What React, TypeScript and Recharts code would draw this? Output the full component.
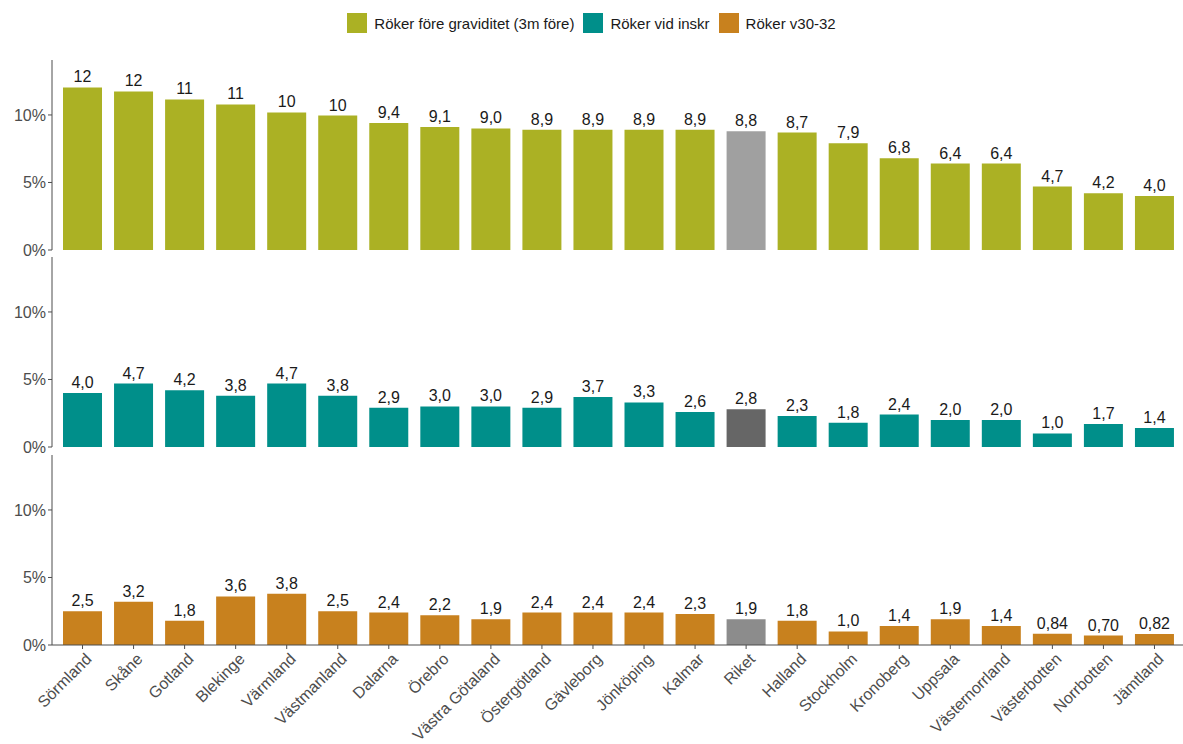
import { BarChart, Bar, XAxis, YAxis, Cell, LabelList } from "recharts";

const counties = [
  "Sörmland", "Skåne", "Gotland", "Blekinge", "Värmland", "Västmanland", "Dalarna", "Örebro",
  "Västra Götaland", "Östergötland", "Gävleborg", "Jönköping", "Kalmar", "Riket", "Halland",
  "Stockholm", "Kronoberg", "Uppsala", "Västernorrland", "Västerbotten", "Norrbotten", "Jämtland",
];

// Röker före graviditet (3m före), %
const rokerFore = [12.04, 11.74, 11.15, 10.78, 10.19, 9.96, 9.4, 9.1, 9.0, 8.9, 8.9, 8.9, 8.9, 8.8, 8.7, 7.9, 6.8, 6.4, 6.4, 4.7, 4.2, 4.0];
// Röker vid inskr, %
const rokerInskr = [4.0, 4.7, 4.2, 3.8, 4.7, 3.8, 2.9, 3.0, 3.0, 2.9, 3.7, 3.3, 2.6, 2.8, 2.3, 1.8, 2.4, 2.0, 2.0, 1.0, 1.7, 1.4];
// Röker v30-32, %
const rokerV30 = [2.5, 3.2, 1.8, 3.6, 3.8, 2.5, 2.4, 2.2, 1.9, 2.4, 2.4, 2.4, 2.3, 1.9, 1.8, 1.0, 1.4, 1.9, 1.4, 0.84, 0.70, 0.82];

const yTicks = [0, 5, 10];

const FONT = "'Liberation Sans', Arial, Helvetica, sans-serif";
const AXIS = "#4d4d4d";

const panels = [
  { name: "Röker före graviditet (3m före)", values: rokerFore, color: "#abb124", riket: "#a0a0a0", top: 50 },
  { name: "Röker vid inskr", values: rokerInskr, color: "#008f8a", riket: "#666666", top: 247 },
  { name: "Röker v30-32", values: rokerV30, color: "#c8811e", riket: "#8c8c8c", top: 445 },
];

const fmt = (v: number) => Number(v).toPrecision(2).replace(".", ",");

const XTick = ({ x, y, payload }: any) => (
  <g transform={`translate(${x + 2},${y + 1})`}>
    <text x={0} y={0} dy="0.71em" textAnchor="end" transform="rotate(-45)" fill={AXIS} fontSize={16} fontFamily={FONT}>
      {payload.value}
    </text>
  </g>
);

const Panel = ({ values, color, riket, showX }: { values: number[]; color: string; riket: string; showX: boolean }) => {
  const data = counties.map((c, i) => ({ name: c, value: values[i] }));
  return (
    <BarChart
      width={1185}
      height={showX ? 300 : 210}
      data={data}
      margin={{ top: 10, right: 0, bottom: showX ? 0 : 10, left: 0 }}
    >
      <XAxis
        dataKey="name"
        hide={!showX}
        interval={0}
        padding={{ left: 5, right: 5 }}
        height={100}
        stroke={AXIS}
        tickSize={4}
        tick={<XTick />}
      />
      <YAxis
        width={52}
        domain={[0, 14.07]}
        ticks={yTicks}
        allowDataOverflow
        stroke={AXIS}
        tickSize={4}
        tickFormatter={(v) => `${v}%`}
        tick={{ fill: AXIS, fontSize: 16, fontFamily: FONT }}
      />
      <Bar dataKey="value" barSize={39} isAnimationActive={false}>
        {data.map((d, i) => (
          <Cell key={`cell-${i}`} fill={d.name === "Riket" ? riket : color} />
        ))}
        <LabelList dataKey="value" position="top" offset={5} formatter={(v: any) => fmt(v)} fill="#1a1a1a" fontSize={16} fontFamily={FONT} />
      </Bar>
    </BarChart>
  );
};

export default function App() {
  return (
    <div style={{ position: "absolute", left: 0, top: 0, width: 1183, height: 744, overflow: "hidden", background: "#fff", fontFamily: FONT }}>
      <div style={{ position: "absolute", top: 13, left: 0, width: 1183, display: "flex", justifyContent: "center", alignItems: "center", gap: 9 }}>
        {panels.map((p) => (
          <div key={p.name} style={{ display: "flex", alignItems: "center" }}>
            <div style={{ width: 20, height: 20, background: p.color, marginRight: 7 }} />
            <span style={{ fontSize: 15, color: "#1a1a1a" }}>{p.name}</span>
          </div>
        ))}
      </div>
      {panels.map((p, i) => (
        <div key={p.name} style={{ position: "absolute", top: p.top, left: 0 }}>
          <Panel values={p.values} color={p.color} riket={p.riket} showX={i === 2} />
        </div>
      ))}
    </div>
  );
}
